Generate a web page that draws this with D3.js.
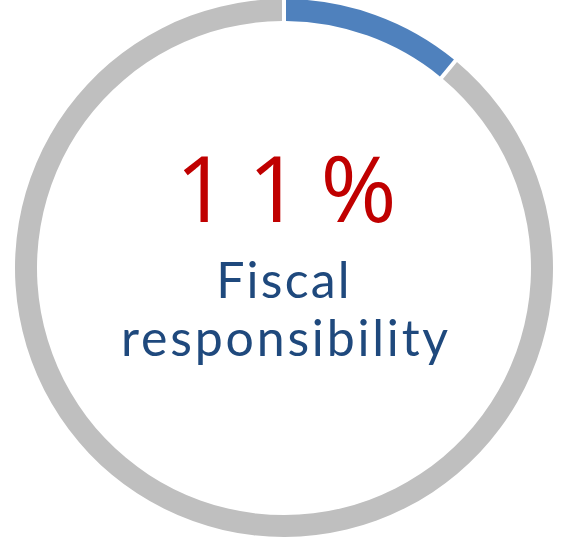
<!DOCTYPE html>
<html>
<head>
<meta charset="utf-8">
<script src="https://cdn.jsdelivr.net/npm/d3@7"></script>
<style>
  html, body { margin: 0; padding: 0; background: #ffffff; }
  svg { display: block; }
  .val { font-family: "Segoe Print", "Comic Sans MS", "Open Sans", sans-serif; }
  .name { font-family: "Segoe Print", "Comic Sans MS", Lato, sans-serif; }
</style>
</head>
<body>
<svg id="chart" width="565" height="548"></svg>
<script>
// Share of responses for the highlighted category and the remainder
const categories = ["Fiscal responsibility", "Other"];
const shares = [11, 89];
const colors = ["#4F81BD", "#BFBFBF"];
const valueLabel = "11%";
const titleLines = ["Fiscal", "responsibility"];

const width = 565, height = 548;
const cx = 284, cy = 268;
const outerR = 269, innerR = 247;

const svg = d3.select("#chart");
const g = svg.append("g").attr("transform", `translate(${cx},${cy})`);

const pie = d3.pie().sort(null).value(d => d.value);
const arc = d3.arc()
  .innerRadius(innerR)
  .outerRadius(outerR)
  .padRadius((innerR + outerR) / 2)
  .padAngle(4 / ((innerR + outerR) / 2));

const data = categories.map((c, i) => ({ name: c, value: shares[i] }));

g.selectAll("path.slice")
  .data(pie(data))
  .join("path")
  .attr("class", "slice")
  .attr("d", arc)
  .attr("fill", (d, i) => colors[i]);

// Centre value
g.append("text")
  .attr("class", "val")
  .attr("x", 12)
  .attr("y", -46)
  .attr("text-anchor", "middle")
  .attr("fill", "#C00000")
  .attr("font-size", 92)
  .attr("letter-spacing", 20)
  .text(valueLabel);

// Category name, two lines
g.selectAll("text.name")
  .data(titleLines)
  .join("text")
  .attr("class", "name")
  .attr("x", (d, i) => i === 0 ? 0 : 2)
  .attr("y", (d, i) => 30 + i * 58)
  .attr("text-anchor", "middle")
  .attr("fill", "#1F497D")
  .attr("font-size", 50)
  .attr("letter-spacing", (d, i) => i === 0 ? 2.2 : 2.8)
  .text(d => d);
</script>
</body>
</html>
